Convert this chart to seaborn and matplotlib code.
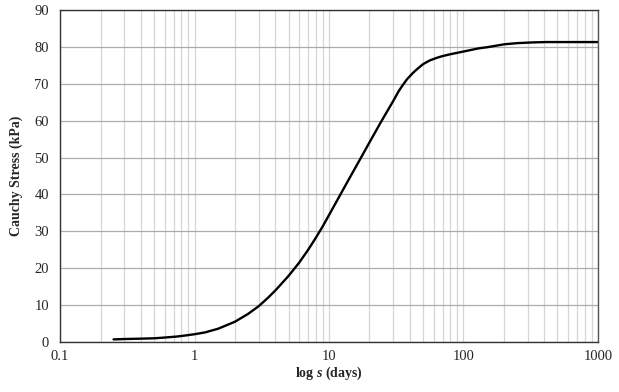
# Cauchy stress vs log time curve
import pandas as pd
import matplotlib
matplotlib.use('Agg')
import matplotlib.pyplot as plt
import seaborn as sns
from matplotlib.ticker import LogLocator, FixedLocator, FuncFormatter

# values
days = [0.25, 0.3, 0.4, 0.5, 0.6, 0.75, 0.85, 1, 1.2, 1.5, 2, 2.5, 3, 3.5, 4,
        5, 6, 7, 8, 9, 10, 12, 14, 17.5, 20, 24.4, 30, 33, 35, 38, 42, 45, 50,
        56, 63, 70, 80, 99, 130, 150, 202, 250, 326, 412, 600, 1000]
stress = [0.7, 0.8, 0.9, 1.0, 1.2, 1.5, 1.75, 2.1, 2.6, 3.6, 5.5, 7.6, 9.7,
          11.9, 14.0, 17.9, 21.5, 25.0, 28.3, 31.4, 34.4, 39.6, 44.0, 50.3,
          54.1, 59.7, 65.3, 68.0, 69.4, 71.2, 72.9, 73.9, 75.3, 76.3, 77.0,
          77.5, 78.0, 78.7, 79.6, 79.9, 80.7, 81.0, 81.2, 81.3, 81.3, 81.3]
x_ticks = [0.1, 1, 10, 100, 1000]
x_labels = ['0.1', '1', '10', '100', '1000']
y_ticks = list(range(0, 91, 10))

df = pd.DataFrame({'days': days, 'stress': stress})

sns.set_style('white')
plt.rcParams['font.family'] = ['Liberation Serif', 'DejaVu Serif']
plt.rcParams['mathtext.fontset'] = 'custom'
plt.rcParams['mathtext.rm'] = 'Liberation Serif'
plt.rcParams['mathtext.it'] = 'Liberation Serif:italic'
plt.rcParams['mathtext.bf'] = 'Liberation Serif:bold'
plt.rcParams['mathtext.bfit'] = 'Liberation Serif:bold:italic'

fig = plt.figure(figsize=(6.19, 3.92), dpi=100)
ax = fig.add_axes([0.097, 0.1276, 0.869, 0.847])

ax.set_xscale('log')
sns.lineplot(data=df, x='days', y='stress', ax=ax, color='black', linewidth=1.7)

ax.set_xlim(0.1, 1000)
ax.set_ylim(0, 90)
ax.xaxis.set_major_locator(FixedLocator(x_ticks))
ax.xaxis.set_major_formatter(FuncFormatter(lambda v, p: x_labels[x_ticks.index(v)] if v in x_ticks else ''))
ax.xaxis.set_minor_locator(LogLocator(base=10, subs=range(2, 10), numticks=20))
ax.set_yticks(y_ticks)

ax.grid(True, axis='x', which='both', color='#d6d6d6', linewidth=0.9)
ax.grid(True, axis='y', which='major', color='#acacac', linewidth=0.9)

for side in ['left', 'bottom', 'top', 'right']:
    ax.spines[side].set_color('#333333')
    ax.spines[side].set_linewidth(1.0)
ax.spines['right'].set_color('#555555')

ax.tick_params(axis='y', direction='out', length=4, width=1, color='#333333',
               labelsize=10.5, pad=4)
ax.tick_params(axis='x', which='major', direction='in', length=4, width=1,
               color='#333333', labelsize=10.5, pad=6)
ax.tick_params(axis='x', which='minor', direction='in', length=3, width=1,
               color='#333333')

ax.set_xlabel(r'log $\mathbfit{s}$ (days)', fontsize=10, fontweight='bold', labelpad=1)
ax.set_ylabel('Cauchy Stress (kPa)', fontsize=10, fontweight='bold', labelpad=8)

fig.savefig('out.png', dpi=100)
